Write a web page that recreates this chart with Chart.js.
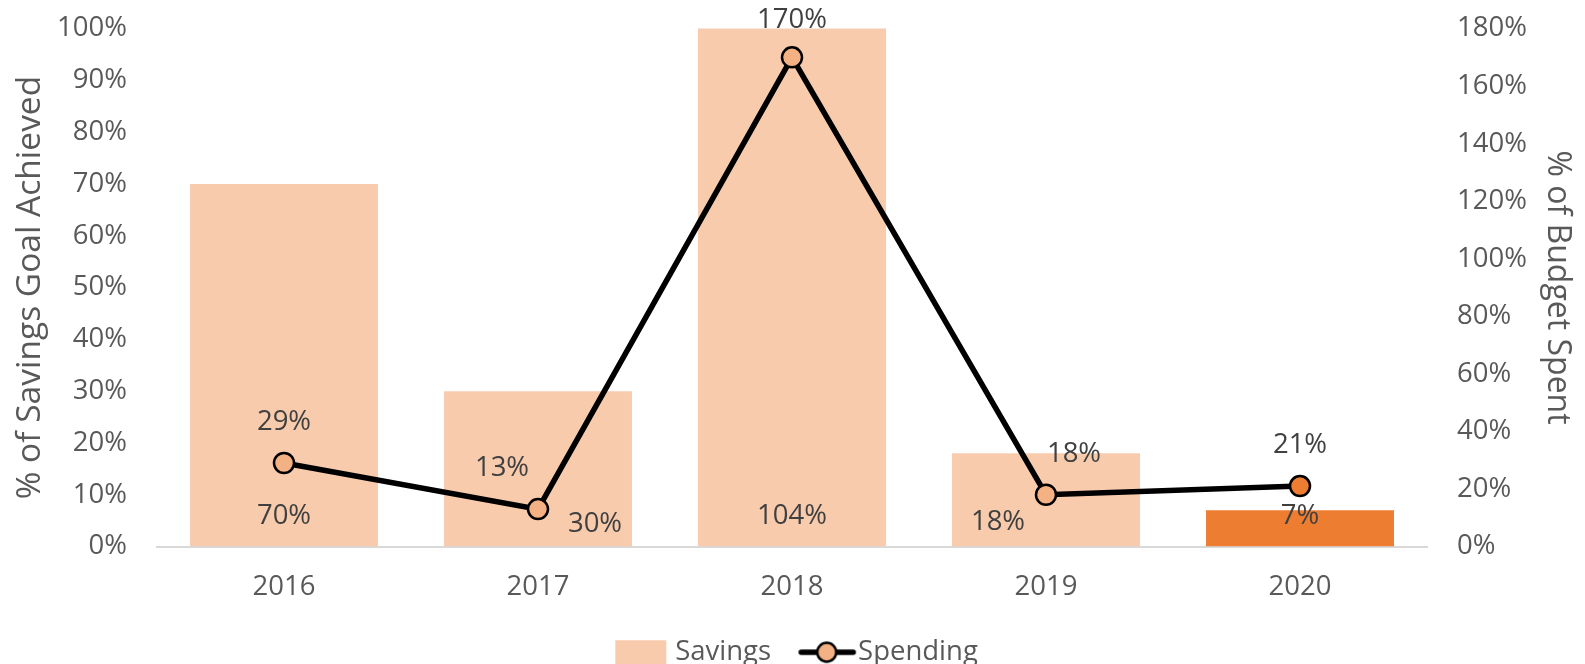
<!DOCTYPE html>
<html>
<head>
<meta charset="utf-8">
<script src="https://cdn.jsdelivr.net/npm/chart.js@4.4.1/dist/chart.umd.min.js"></script>
<style>
  html, body { margin: 0; padding: 0; overflow: hidden; background: #ffffff; }
  #wrap { position: relative; width: 1585px; height: 676px; }
</style>
</head>
<body>
<div id="wrap"><canvas id="chart"></canvas></div>
<script>
// ---- data ----
const categories = ['2016', '2017', '2018', '2019', '2020'];
const savings = [70, 30, 104, 18, 7];      // % of savings goal achieved (left axis)
const spending = [29, 13, 170, 18, 21];    // % of budget spent (right axis)
const savingsAxisMax = 100;
const spendingAxisMax = 180;
const savingsStep = 10;
const spendingStep = 20;

// ---- styles ----
const FONT = '"Open Sans", "DejaVu Sans", sans-serif';
const barFill = ['#F8CBAD', '#F8CBAD', '#F8CBAD', '#F8CBAD', '#ED7D31'];
const pointFill = ['#F4B183', '#F4B183', '#F4B183', '#F4B183', '#ED7D31'];
const barLabelNudge = [[0, 0], [57, 8], [0, 0], [-48, 6], [0, 0]];
const lineLabelNudge = [[0, 0], [-36, 0], [0, 4], [28, 0], [0, 0]];

// legend icons: drawn from 19px left of the canvas centre
function makeSavingsIcon() {
  const c = document.createElement('canvas');
  c.width = 100; c.height = 26;
  const g = c.getContext('2d');
  g.fillStyle = '#F8CBAD';
  g.fillRect(31, 1, 51, 24);
  return c;
}
function makeSpendingIcon() {
  const c = document.createElement('canvas');
  c.width = 100; c.height = 26;
  const g = c.getContext('2d');
  g.strokeStyle = '#000'; g.lineWidth = 5.5; g.lineCap = 'round';
  g.beginPath(); g.moveTo(34, 13); g.lineTo(86, 13); g.stroke();
  g.beginPath(); g.arc(59.5, 13, 9.5, 0, Math.PI * 2);
  g.fillStyle = '#F4B183'; g.fill();
  g.lineWidth = 2.5; g.stroke();
  return c;
}
const savingsIcon = makeSavingsIcon();
const spendingIcon = makeSpendingIcon();

const valueLabels = {
  id: 'valueLabels',
  afterDatasetsDraw(chart) {
    const ctx = chart.ctx;
    ctx.save();
    ctx.font = '27.5px ' + FONT;
    ctx.fillStyle = '#404040';
    ctx.textAlign = 'center';
    ctx.textBaseline = 'middle';
    chart.getDatasetMeta(0).data.forEach((el, i) => {
      ctx.fillText(savings[i] + '%', el.x + barLabelNudge[i][0], el.base - 30 + barLabelNudge[i][1]);
    });
    chart.getDatasetMeta(1).data.forEach((el, i) => {
      ctx.fillText(spending[i] + '%', el.x + lineLabelNudge[i][0], el.y - 41 + lineLabelNudge[i][1]);
    });
    ctx.restore();
  }
};

const tickFont = { family: FONT, size: 27.5 };

function fixVertical(width) {
  return function (s) {
    s.width = width;
    s.paddingTop = 0;
    s.paddingBottom = 0;
  };
}

new Chart(document.getElementById('chart'), {
  data: {
    labels: categories,
    datasets: [
      {
        type: 'bar',
        label: 'Savings',
        data: savings,
        yAxisID: 'y',
        backgroundColor: barFill,
        borderWidth: 0,
        categoryPercentage: 1,
        barPercentage: 0.74,
        order: 1
      },
      {
        type: 'line',
        label: 'Spending',
        data: spending,
        yAxisID: 'y1',
        borderColor: '#000000',
        borderWidth: 5.5,
        pointRadius: 10,
        pointBorderWidth: 2.5,
        pointBorderColor: '#000000',
        pointBackgroundColor: pointFill,
        tension: 0,
        fill: false,
        order: 0
      }
    ]
  },
  options: {
    responsive: true,
    maintainAspectRatio: false,
    animation: false,
    events: [],
    layout: { padding: { left: 0, right: 0, top: 28.6, bottom: 0 } },
    plugins: {
      tooltip: { enabled: false },
      legend: {
        display: true,
        position: 'bottom',
        labels: {
          usePointStyle: true,
          pointStyleWidth: 54.25,
          padding: 19,
          color: '#595959',
          font: tickFont,
          generateLabels: () => [
            { text: 'Savings', pointStyle: savingsIcon, fillStyle: '#F8CBAD', strokeStyle: 'rgba(0,0,0,0)', lineWidth: 0, datasetIndex: 0, fontColor: '#595959' },
            { text: 'Spending', pointStyle: spendingIcon, fillStyle: '#F4B183', strokeStyle: 'rgba(0,0,0,0)', lineWidth: 0, datasetIndex: 1, fontColor: '#595959' }
          ]
        }
      }
    },
    scales: {
      x: {
        type: 'category',
        offset: true,
        grid: { display: false, drawTicks: false },
        border: { display: true, color: '#D9D9D9', width: 2 },
        ticks: { color: '#595959', font: tickFont, padding: 24 },
        afterFit(s) { s.height = 73; }
      },
      y: {
        type: 'linear',
        position: 'left',
        min: 0,
        max: savingsAxisMax,
        grid: { display: false, drawTicks: false },
        border: { display: false },
        ticks: { stepSize: savingsStep, color: '#595959', font: tickFont, padding: 30, callback: v => v + '%' },
        title: { display: true, text: '% of Savings Goal Achieved', color: '#595959', font: { family: FONT, size: 33.5 }, padding: { top: 10, bottom: 0 } },
        afterFit: fixVertical(157)
      },
      y1: {
        type: 'linear',
        position: 'right',
        min: 0,
        max: spendingAxisMax,
        grid: { display: false, drawTicks: false },
        border: { display: false },
        ticks: { stepSize: spendingStep, color: '#595959', font: tickFont, padding: 30, callback: v => v + '%' },
        title: { display: true, text: '% of Budget Spent', color: '#595959', font: { family: FONT, size: 32 }, padding: { top: 9, bottom: 0 } },
        afterFit: fixVertical(158)
      }
    }
  },
  plugins: [valueLabels]
});
</script>
</body>
</html>
